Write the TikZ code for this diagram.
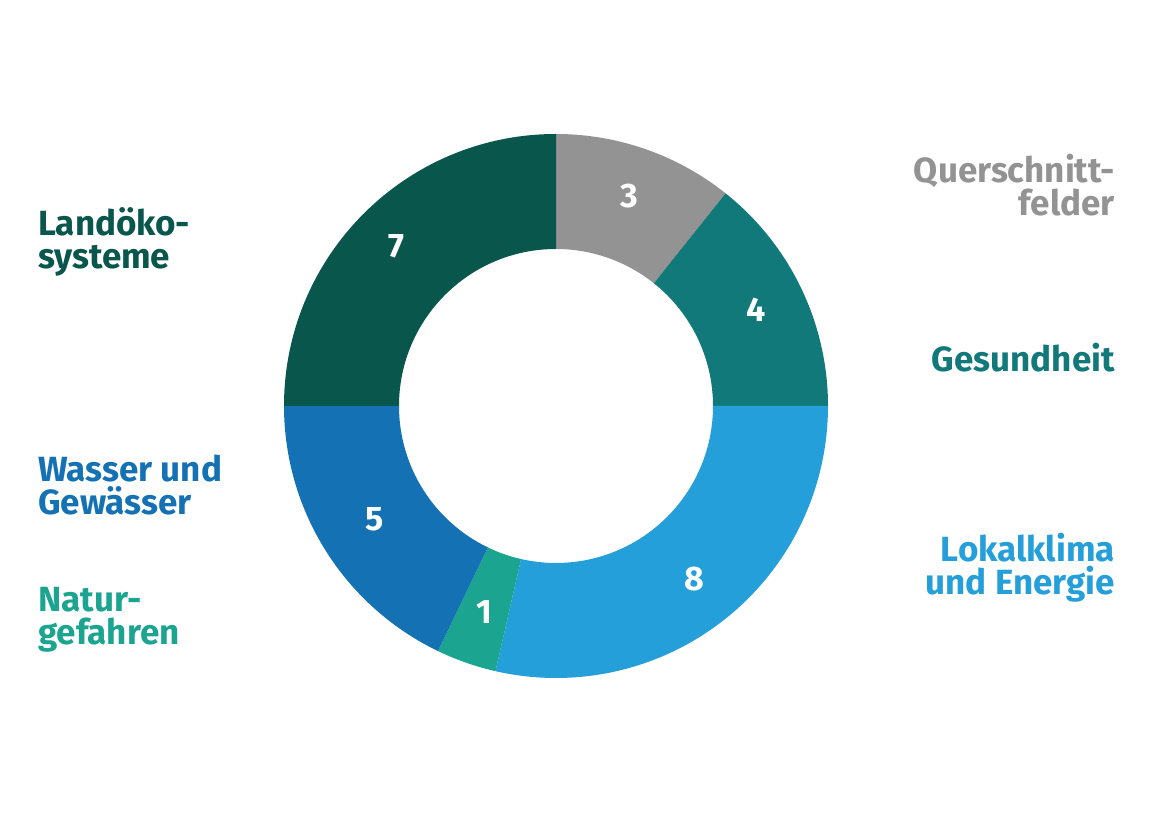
\documentclass[tikz,border=0pt]{standalone}
\usepackage{fontspec}
\setmainfont{Fira Sans}
\usetikzlibrary{calc}
\definecolor{quergray}{HTML}{939393}
\definecolor{gesteal}{HTML}{11797A}
\definecolor{lokblue}{HTML}{259FDA}
\definecolor{natgreen}{HTML}{1BA48F}
\definecolor{wasblue}{HTML}{1471B3}
\definecolor{landgreen}{HTML}{09564C}
\tikzset{
  catlabel/.style={font=\fontsize{35}{33}\selectfont\bfseries, inner sep=0pt},
  numlabel/.style={font=\fontsize{34}{34}\selectfont\bfseries, text=white, inner sep=0pt}
}
\begin{document}
\begin{tikzpicture}[x=1pt,y=1pt]
    \useasboundingbox (0,0) rectangle (1152,814);
    \coordinate (ctr) at (556,408);
    % ring segments
    \foreach \a/\b/\col in {90/51.43/quergray, 51.43/0/gesteal, 0/-102.86/lokblue,
                            -102.86/-115.71/natgreen, -115.71/-180/wasblue, 180/90/landgreen} {
      \fill[\col] ($(ctr)+(\a:272)$) arc[start angle=\a, end angle=\b, radius=272]
        -- ($(ctr)+(\b:157)$) arc[start angle=\b, end angle=\a, radius=157] -- cycle;
    }
    % values
    \node[numlabel] (n3) at ($(ctr)+(70.7:222)$) {3};
    \node[numlabel] (n4) at ($(ctr)+(25.7:222)$) {4};
    \node[numlabel] (n8) at ($(ctr)+(-51.4:222)$) {8};
    \node[numlabel] (n1) at ($(ctr)+(-109.3:218)$) {1};
    \node[numlabel] (n5) at ($(ctr)+(-147.9:214)$) {5};
    \node[numlabel] (n7) at ($(ctr)+(135:226)$) {7};
    % categories
    \node[catlabel, anchor=west, align=left, text=landgreen] (land) at (38,572) {Landöko-\\systeme};
    \node[catlabel, anchor=west, align=left, text=wasblue] (wasser) at (38,329) {Wasser und\\Gewässer};
    \node[catlabel, anchor=west, align=left, text=natgreen] (natur) at (38,194) {Natur-\\gefahren};
    \node[catlabel, anchor=east, align=right, text=quergray] (quer) at (1115,629) {Querschnitt-\\felder};
    \node[catlabel, anchor=east, align=right, text=gesteal] (gesund) at (1115,456) {Gesundheit};
    \node[catlabel, anchor=east, align=right, text=lokblue] (lokal) at (1115,246) {Lokalklima\\und Energie};
\end{tikzpicture}
\end{document}
